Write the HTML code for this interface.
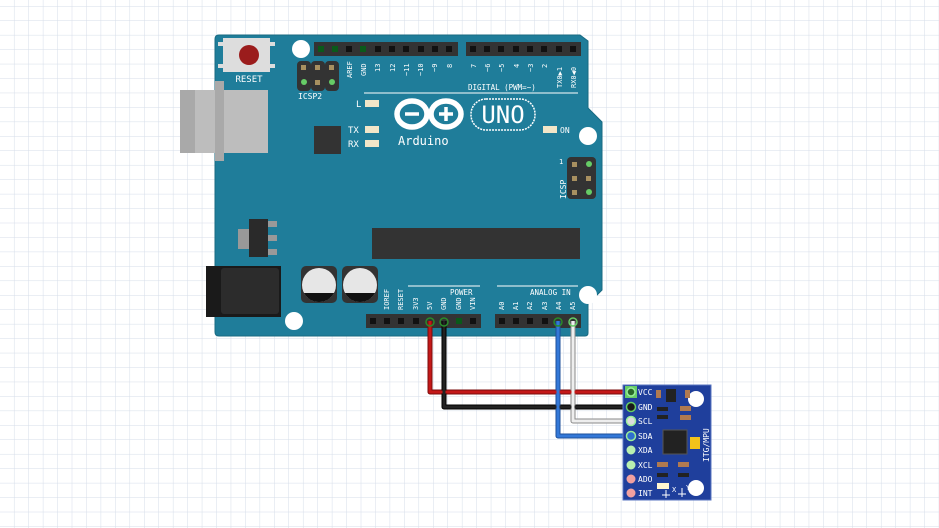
<!DOCTYPE html>
<html><head><meta charset="utf-8"><style>
html,body{margin:0;padding:0;background:#fff;}
svg{display:block;}
text{font-family:"DejaVu Sans Mono","Liberation Mono",monospace;}
</style></head><body>
<svg width="939" height="528" viewBox="0 0 939 528" xmlns="http://www.w3.org/2000/svg">
<defs>
<pattern id="g" x="0" y="6.5" width="14.45" height="14.45" patternUnits="userSpaceOnUse">
<path d="M14.45 0V14.45M0 14.45H14.45" stroke="#d6dde9" stroke-width="1" fill="none"/>
</pattern>
</defs>
<rect width="939" height="528" fill="#fff"/>
<rect width="939" height="528" fill="url(#g)"/>

<!-- board -->
<path d="M219 35 H580 L588 41 V108 L602 122 V290 L588 304 V333 Q588 336 585 336 H219 Q215 336 215 332 V39 Q215 35 219 35Z" fill="#1f7d9a" stroke="#186a82" stroke-width="1"/>
<circle cx="301" cy="49" r="9" fill="#fff"/>
<circle cx="294" cy="321" r="9" fill="#fff"/>
<circle cx="588" cy="136" r="9" fill="#fff"/>
<circle cx="588" cy="295" r="9" fill="#fff"/>

<!-- reset -->
<rect x="223" y="38" width="47" height="34" fill="#ddd"/>
<rect x="218" y="42" width="5" height="4" fill="#ddd"/><rect x="270" y="42" width="5" height="4" fill="#ddd"/>
<rect x="218" y="64" width="5" height="4" fill="#ddd"/><rect x="270" y="64" width="5" height="4" fill="#ddd"/>
<circle cx="249" cy="55" r="10" fill="#9b1c1c"/>
<text x="249" y="82" font-size="9" fill="#fff" text-anchor="middle">RESET</text>

<!-- USB -->
<rect x="180" y="90" width="88" height="63" fill="#bdbdbd"/>
<rect x="180" y="90" width="15" height="63" fill="#a9a9a9"/>
<rect x="215" y="81" width="9" height="80" fill="#a9a9a9"/>

<!-- top headers -->
<rect x="314" y="42" width="144" height="14" fill="#333"/>
<g fill="#111">
<rect x="318" y="46" width="6" height="6" fill="#0a5a1a"/><rect x="332" y="46" width="6" height="6" fill="#0a5a1a"/><rect x="346" y="46" width="6" height="6"/><rect x="360" y="46" width="6" height="6" fill="#0a5a1a"/><rect x="375" y="46" width="6" height="6"/><rect x="389" y="46" width="6" height="6"/><rect x="403" y="46" width="6" height="6"/><rect x="418" y="46" width="6" height="6"/><rect x="432" y="46" width="6" height="6"/><rect x="446" y="46" width="6" height="6"/>
</g>
<rect x="466" y="42" width="115" height="14" fill="#333"/>
<g fill="#111">
<rect x="470" y="46" width="6" height="6"/><rect x="484" y="46" width="6" height="6"/><rect x="498" y="46" width="6" height="6"/><rect x="513" y="46" width="6" height="6"/><rect x="527" y="46" width="6" height="6"/><rect x="541" y="46" width="6" height="6"/><rect x="556" y="46" width="6" height="6"/><rect x="570" y="46" width="6" height="6"/>
</g>
<g font-size="7" fill="#fff">
<text transform="translate(352,78) rotate(-90)">AREF</text>
<text transform="translate(366,76) rotate(-90)">GND</text>
<text transform="translate(380,72) rotate(-90)">13</text>
<text transform="translate(395,72) rotate(-90)">12</text>
<text transform="translate(409,76) rotate(-90)">~11</text>
<text transform="translate(423,76) rotate(-90)">~10</text>
<text transform="translate(437,72) rotate(-90)">~9</text>
<text transform="translate(452,68) rotate(-90)">8</text>
<text transform="translate(476,68) rotate(-90)">7</text>
<text transform="translate(490,72) rotate(-90)">~6</text>
<text transform="translate(504,72) rotate(-90)">~5</text>
<text transform="translate(519,68) rotate(-90)">4</text>
<text transform="translate(533,72) rotate(-90)">~3</text>
<text transform="translate(547,68) rotate(-90)">2</text>
<text transform="translate(562,88) rotate(-90)">TX0▶1</text>
<text transform="translate(576,88) rotate(-90)">RX0◀0</text>
</g>
<text x="468" y="90" font-size="7.5" fill="#fff">DIGITAL (PWM=~)</text>
<line x1="364" y1="93" x2="578" y2="93" stroke="#fff" stroke-width="1"/>

<!-- ICSP2 -->
<rect x="297" y="61" width="14" height="30" rx="4" fill="#333"/><rect x="311" y="61" width="14" height="30" rx="4" fill="#333"/><rect x="325" y="61" width="14" height="30" rx="4" fill="#333"/>
<rect x="301" y="65" width="5" height="5" fill="#a89060"/><rect x="315" y="65" width="5" height="5" fill="#a89060"/><rect x="329" y="65" width="5" height="5" fill="#a89060"/>
<circle cx="304" cy="82" r="3" fill="#6c6"/><rect x="315" y="80" width="5" height="5" fill="#a89060"/><circle cx="332" cy="82" r="3" fill="#6c6"/>
<text x="298" y="99" font-size="8" fill="#fff">ICSP2</text>

<!-- LEDs -->
<text x="356" y="107" font-size="9" fill="#fff">L</text>
<rect x="365" y="100" width="14" height="7" fill="#f2e6c8"/>
<text x="348" y="133" font-size="9" fill="#fff">TX</text>
<rect x="365" y="126" width="14" height="7" fill="#f2e6c8"/>
<text x="348" y="147" font-size="9" fill="#fff">RX</text>
<rect x="365" y="140" width="14" height="7" fill="#f2e6c8"/>
<rect x="314" y="126" width="27" height="28" fill="#333"/>

<!-- logo -->
<g fill="none" stroke="#fff" stroke-width="5.5">
<ellipse cx="412" cy="114" rx="15" ry="13"/>
<ellipse cx="446" cy="114" rx="15" ry="13"/>
</g>
<path d="M405 114h14M439 114h14M446 107v14" stroke="#fff" stroke-width="3.5"/>
<rect x="471" y="99" width="64" height="31" rx="15" fill="none" stroke="#fff" stroke-width="1.5" stroke-dasharray="2 1"/>
<text x="503" y="123" font-size="24" fill="#fff" text-anchor="middle" font-family="Liberation Sans,sans-serif">UNO</text>
<text x="398" y="145" font-size="12" fill="#fff">Arduino</text>
<rect x="543" y="126" width="14" height="7" fill="#f2e6c8"/>
<text x="560" y="133" font-size="8" fill="#fff">ON</text>

<!-- ICSP -->
<rect x="567" y="157" width="29" height="42" rx="4" fill="#333"/>
<rect x="572" y="162" width="5" height="5" fill="#a89060"/><circle cx="589" cy="164" r="3" fill="#6c6"/>
<rect x="572" y="176" width="5" height="5" fill="#a89060"/><rect x="586" y="176" width="5" height="5" fill="#a89060"/>
<rect x="572" y="190" width="5" height="5" fill="#a89060"/><circle cx="589" cy="192" r="3" fill="#6c6"/>
<text transform="translate(566,199) rotate(-90)" font-size="8" fill="#fff">ICSP</text>
<text x="559" y="164" font-size="7" fill="#fff">1</text>

<rect x="372" y="228" width="208" height="31" fill="#333"/>
<rect x="238" y="229" width="12" height="20" fill="#999"/>
<rect x="268" y="221" width="9" height="6" fill="#999"/><rect x="268" y="235" width="9" height="6" fill="#999"/><rect x="268" y="249" width="9" height="6" fill="#999"/>
<rect x="249" y="219" width="19" height="38" fill="#2a2a2a"/>
<rect x="206" y="266" width="75" height="51" fill="#1a1a1a"/>
<rect x="221" y="268" width="58" height="46" rx="3" fill="#2c2c2c"/>
<rect x="301" y="266" width="36" height="37" rx="5" fill="#333"/>
<rect x="342" y="266" width="36" height="37" rx="5" fill="#333"/>
<circle cx="319" cy="285" r="17" fill="#e6e6e6"/>
<circle cx="360" cy="285" r="17" fill="#e6e6e6"/>
<path d="M304 293 H334 A17 17 0 0 1 304 293Z" fill="#111"/>
<path d="M345 293 H375 A17 17 0 0 1 345 293Z" fill="#111"/>

<line x1="408" y1="286" x2="480" y2="286" stroke="#fff"/>
<text x="450" y="295" font-size="7.5" fill="#fff">POWER</text>
<line x1="497" y1="286" x2="578" y2="286" stroke="#fff"/>
<text x="530" y="295" font-size="7.5" fill="#fff">ANALOG IN</text>
<g font-size="7" fill="#fff">
<text transform="translate(389,310) rotate(-90)">IOREF</text>
<text transform="translate(403,310) rotate(-90)">RESET</text>
<text transform="translate(418,310) rotate(-90)">3V3</text>
<text transform="translate(432,310) rotate(-90)">5V</text>
<text transform="translate(446,310) rotate(-90)">GND</text>
<text transform="translate(461,310) rotate(-90)">GND</text>
<text transform="translate(475,310) rotate(-90)">VIN</text>
<text transform="translate(504,310) rotate(-90)">A0</text>
<text transform="translate(518,310) rotate(-90)">A1</text>
<text transform="translate(532,310) rotate(-90)">A2</text>
<text transform="translate(547,310) rotate(-90)">A3</text>
<text transform="translate(561,310) rotate(-90)">A4</text>
<text transform="translate(575,310) rotate(-90)">A5</text>
</g>
<rect x="366" y="314" width="115" height="14" fill="#333"/>
<g fill="#111">
<rect x="370" y="318" width="6" height="6"/><rect x="384" y="318" width="6" height="6"/><rect x="398" y="318" width="6" height="6"/><rect x="413" y="318" width="6" height="6"/><rect x="456" y="318" width="6" height="6" fill="#0a5a1a"/><rect x="470" y="318" width="6" height="6"/>
</g>
<rect x="495" y="314" width="86" height="14" fill="#333"/>
<g fill="#111">
<rect x="499" y="318" width="6" height="6"/><rect x="513" y="318" width="6" height="6"/><rect x="527" y="318" width="6" height="6"/><rect x="542" y="318" width="6" height="6"/>
</g>

<!-- wires -->
<g fill="none" stroke-width="5" stroke-linejoin="round">
<path d="M430 321 V392 H632" stroke="#7a0c0c"/>
<path d="M444 321 V407 H632" stroke="#000"/>
<path d="M573 321 V421 H632" stroke="#8a8a8a"/>
<path d="M558 321 V436 H632" stroke="#1d4f9a"/>
</g>
<g fill="none" stroke-width="3" stroke-linejoin="round">
<path d="M430 321 V392 H632" stroke="#c41818"/>
<path d="M444 321 V407 H632" stroke="#222"/>
<path d="M573 321 V421 H632" stroke="#eee"/>
<path d="M558 321 V436 H632" stroke="#3378d8"/>
</g>
<circle cx="430" cy="322" r="4" fill="none" stroke="#2a8a2a" stroke-width="1.5"/>
<circle cx="444" cy="322" r="4" fill="none" stroke="#2a8a2a" stroke-width="1.5"/>
<circle cx="558" cy="322" r="4" fill="none" stroke="#2a8a2a" stroke-width="1.5"/>
<circle cx="573" cy="322" r="4" fill="none" stroke="#6c6" stroke-width="1.5"/>

<!-- MPU -->
<rect x="623" y="385" width="88" height="115" fill="#1f3f9c" stroke="#5a76c0" stroke-width="1"/>
<circle cx="696" cy="399" r="8" fill="#fff"/>
<circle cx="696" cy="488" r="8" fill="#fff"/>
<rect x="625" y="386" width="12" height="12" fill="#6c6"/>
<g stroke-width="1.5">
<circle cx="631" cy="392" r="4" fill="#2a6a2a" stroke="#9e9"/>
<circle cx="631" cy="407" r="4.5" fill="#1a1a1a" stroke="#6c6"/>
<circle cx="631" cy="421" r="4.5" fill="#ddd" stroke="#9e9"/>
<circle cx="631" cy="436" r="4.5" fill="#2f6fcf" stroke="#9e9"/>
<circle cx="631" cy="450" r="4.5" fill="#b9f0b0" stroke="none"/>
<circle cx="631" cy="465" r="4.5" fill="#b9f0b0" stroke="none"/>
<circle cx="631" cy="479" r="4.5" fill="#f0a0a0" stroke="none"/>
<circle cx="631" cy="493" r="4.5" fill="#f0a0a0" stroke="none"/>
</g>
<g font-size="8" fill="#fff">
<text x="638" y="395">VCC</text><text x="638" y="410">GND</text><text x="638" y="424">SCL</text><text x="638" y="439">SDA</text>
<text x="638" y="453">XDA</text><text x="638" y="468">XCL</text><text x="638" y="482">ADO</text><text x="638" y="496">INT</text>
</g>
<g fill="#b07a50">
<rect x="656" y="390" width="5" height="8"/><rect x="685" y="390" width="5" height="8"/>
<rect x="680" y="406" width="11" height="5"/><rect x="680" y="415" width="11" height="5"/>
<rect x="657" y="462" width="11" height="5"/><rect x="678" y="462" width="11" height="5"/>
</g>
<rect x="666" y="389" width="10" height="13" fill="#222"/>
<g fill="#222"><rect x="657" y="407" width="11" height="4"/><rect x="657" y="415" width="11" height="4"/><rect x="657" y="473" width="11" height="4"/><rect x="678" y="473" width="11" height="4"/></g>
<rect x="663" y="430" width="24" height="24" fill="#222" stroke="#555"/>
<rect x="690" y="437" width="10" height="12" fill="#f2c21a"/>
<rect x="657" y="483" width="12" height="6" fill="#fff6d0"/>
<text transform="translate(709,462) rotate(-90)" font-size="8" fill="#fff">ITG/MPU</text>
<text x="672" y="492" font-size="7" fill="#fff">X</text>
<text x="686" y="490" font-size="7" fill="#fff">Y</text>
<path d="M662 495h8M666 490v8M678 494h8M682 488v9" stroke="#fff" stroke-width="1"/>
</svg>
</body></html>
